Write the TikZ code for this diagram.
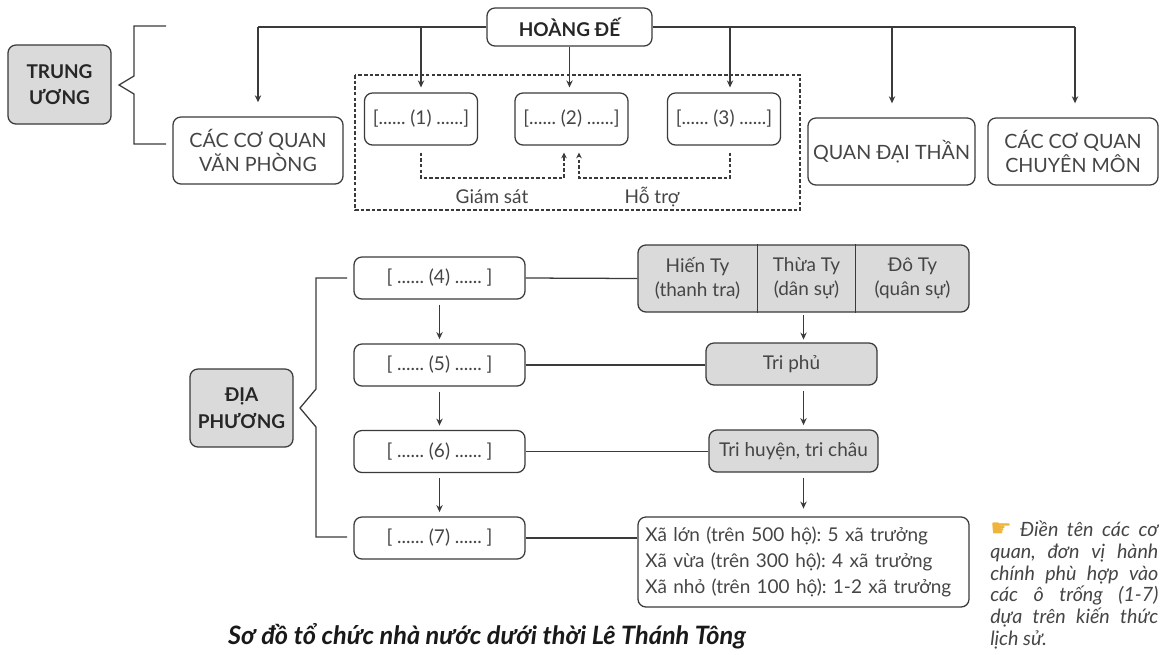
\documentclass[tikz,border=0pt]{standalone}
\usepackage{fontspec}
\setmainfont{Lato}
\newfontfamily\simboli{DejaVu Sans}
\usetikzlibrary{arrows.meta,positioning}
\definecolor{linea}{HTML}{3A3A3A}
\definecolor{grigio}{HTML}{DADADA}
\definecolor{testo}{HTML}{454545}
\definecolor{mano}{HTML}{EFB43A}
\frenchspacing

\begin{document}
\begin{tikzpicture}[x=0.025cm,y=-0.025cm,
        font=\fontsize{13.5}{17}\selectfont,
        casella/.style={draw=linea, line width=0.9pt, rounded corners=0.2cm, align=center, text=testo, inner sep=2pt},
        grigia/.style={casella, fill=grigio},
        titoletto/.style={font=\fontsize{13.5}{19}\selectfont\bfseries, text=black!85},
        freccia/.style={draw=linea, line width=0.9pt, -{Stealth[length=5pt,width=4.5pt]}},
        tratto/.style={draw=linea, line width=0.9pt, dash pattern=on 2.5pt off 1.5pt},
        linea/.style={draw=linea, line width=0.9pt}]
        \useasboundingbox (0,0) rectangle (1160,654); % margini

        % Trung uong
        \node[grigia, titoletto, minimum width=2.575cm, minimum height=1.975cm] (tw) at (59.5,84.5) {TRUNG\\ƯƠNG};
        \node[casella, titoletto, minimum width=4.125cm, minimum height=0.95cm] (hoang) at (569.5,27) {HOÀNG ĐẾ};
        \node[casella, minimum width=4.25cm, minimum height=1.675cm, font=\fontsize{14}{16.5}\selectfont] (vp) at (258,150.5) {CÁC CƠ QUAN\\VĂN PHÒNG};
        \node[casella, minimum width=2.825cm, minimum height=1.3cm] (b1) at (421,119) {[...... (1) ......]};
        \node[casella, minimum width=2.825cm, minimum height=1.3cm] (b2) at (571.5,119) {[...... (2) ......]};
        \node[casella, minimum width=2.825cm, minimum height=1.3cm] (b3) at (724,119) {[...... (3) ......]};
        \node[casella, minimum width=4.175cm, minimum height=1.675cm, font=\fontsize{14}{16.5}\selectfont] (qdt) at (891.5,151.5) {QUAN ĐẠI THẦN};
        \node[casella, minimum width=4.25cm, minimum height=1.675cm, font=\fontsize{14}{16.5}\selectfont] (cm) at (1073,151.5) {CÁC CƠ QUAN\\CHUYÊN MÔN};

        \coordinate (s0) at (258,27);
        \coordinate (s1) at (421,27);
        \coordinate (s3) at (730,27);
        \coordinate (s4) at (892,27);
        \coordinate (s5) at (1075,27);
        \draw[linea] (hoang.west) -- (s0); % barra sinistra
        \draw[linea] (hoang.east) -- (s5); % barra destra
        \draw[freccia, shorten >=10pt] (s0) -- (s0 |- vp.north);
        \draw[freccia, shorten >=3.5pt] (s1) -- (s1 |- b1.north);
        \draw[freccia, shorten >=3.5pt] (hoang.south) -- (hoang.south |- b2.north);
        \draw[freccia, shorten >=3.5pt] (s3) -- (s3 |- b3.north);
        \draw[freccia, shorten >=10pt] (s4) -- (s4 |- qdt.north);
        \draw[freccia, shorten >=10pt] (s5) -- (s5 |- cm.north);

        % riquadro tratteggiato
        \draw[tratto] (355,75) rectangle (800,210);
        \coordinate (g1) at (564,178);
        \coordinate (g2) at (579,178);
        \draw[tratto, -{Stealth[length=4pt,width=4pt]}, shorten <=5pt, shorten >=5pt] (b1.south) |- (g1) -- (g1 |- b2.south);
        \draw[tratto, -{Stealth[length=4pt,width=4pt]}, shorten <=5pt, shorten >=5pt] (b3.south -| s3) |- (g2) -- (g2 |- b2.south);
        \node[text=testo] (gs) at (492,197) {Giám sát};
        \node[text=testo] (ht) at (652,197) {Hỗ trợ};

        % parentesi in alto
        \draw[linea] (166,26) -- (134,26) -- (134,76) -- (119,85) -- (134,94) -- (134,144) -- (166,144);

        % Dia phuong
        \node[grigia, titoletto, minimum width=2.575cm, minimum height=1.95cm] (dp) at (241.5,408) {ĐỊA\\PHƯƠNG};
        \node[casella, minimum width=4.275cm, minimum height=1.05cm] (b4) at (439.5,278) {[ ...... (4) ...... ]};
        \node[casella, minimum width=4.275cm, minimum height=1.05cm] (b5) at (439.5,365) {[ ...... (5) ...... ]};
        \node[casella, minimum width=4.275cm, minimum height=1.05cm] (b6) at (439.5,451.5) {[ ...... (6) ...... ]};
        \node[casella, minimum width=4.275cm, minimum height=1.05cm] (b7) at (439.5,538) {[ ...... (7) ...... ]};
        \draw[freccia, shorten <=3.5pt, shorten >=3pt] (b4) -- (b5);
        \draw[freccia, shorten <=3.5pt, shorten >=3pt] (b5) -- (b6);
        \draw[freccia, shorten <=3.5pt, shorten >=3pt] (b6) -- (b7);

        % parentesi in basso
        \draw[linea] (347,278) -- (316,278) -- (316,389) -- (300,408) -- (316,427) -- (316,537) -- (347,537);

        % colonna destra
        \node[grigia, minimum width=8.275cm, minimum height=1.675cm] (ty) at (803.5,278.5) {};
        \node[align=center, text=testo, minimum width=2.975cm, inner sep=0pt, font=\fontsize{13.5}{17}\selectfont] (hien) at (697.5,278.5) {Hiến Ty\\(thanh tra)};
        \node[align=center, text=testo, minimum width=2.475cm, inner sep=0pt, font=\fontsize{13.5}{17}\selectfont] (thua) at (806.5,278.5) {Thừa Ty\\(dân sự)};
        \node[align=center, text=testo, minimum width=2.825cm, inner sep=0pt, font=\fontsize{13.5}{17}\selectfont] (do) at (912.5,278.5) {Đô Ty\\(quân sự)};
        \draw[linea] (hien.east |- ty.north) -- (hien.east |- ty.south);
        \draw[linea] (do.west |- ty.north) -- (do.west |- ty.south);
        \node[grigia, minimum width=4.275cm, minimum height=1.05cm] (triphu) at (791.5,364) {Tri phủ};
        \node[grigia, minimum width=4.225cm, minimum height=1.05cm] (trihuyen) at (793.5,451) {Tri huyện, tri châu};
        \node[casella, minimum width=8.275cm, minimum height=2.25cm, text width=7.9cm, align=left, font=\fontsize{13.5}{18.4}\selectfont] (xa) at (803.5,562) {Xã lớn (trên 500 hộ): 5 xã trưởng\\Xã vừa (trên 300 hộ): 4 xã trưởng\\Xã nhỏ (trên 100 hộ): 1-2 xã trưởng};

        \draw[linea] (b4.east) -- (ty.west);
        \draw[linea] (b5.east) -- (b5.east -| triphu.west);
        \draw[linea] (b6.east) -- (b6.east -| trihuyen.west);
        \draw[linea] (b7.east) -- (b7.east -| xa.west);
        \draw[freccia, shorten <=2pt, shorten >=2pt] (ty.south) -- (ty.south |- triphu.north);
        \draw[freccia, shorten <=3.5pt, shorten >=3pt] (ty.south |- triphu.south) -- (ty.south |- trihuyen.north);
        \draw[freccia, shorten <=3.5pt, shorten >=5.5pt] (ty.south |- trihuyen.south) -- (ty.south |- xa.north);

        % nota e titolo
        \node[anchor=north west, inner sep=0pt, align=left, text=testo, font=\fontsize{14}{15.4}\selectfont\itshape] (nota) at (990,521)
            {\makebox[4.2cm][s]{{\simboli\fontsize{17}{15}\selectfont\color{mano}☛} Điền tên các cơ}\\
             \makebox[4.2cm][s]{quan, đơn vị hành}\\
             \makebox[4.2cm][s]{chính phù hợp vào}\\
             \makebox[4.2cm][s]{các ô trống (1-7)}\\
             \makebox[4.2cm][s]{dựa trên kiến thức}\\
             lịch sử.};
        \node[font=\fontsize{18}{21}\selectfont\bfseries\itshape, text=black!90] (titolo) at (487,636) {Sơ đồ tổ chức nhà nước dưới thời Lê Thánh Tông};
    \end{tikzpicture}
\end{document}
